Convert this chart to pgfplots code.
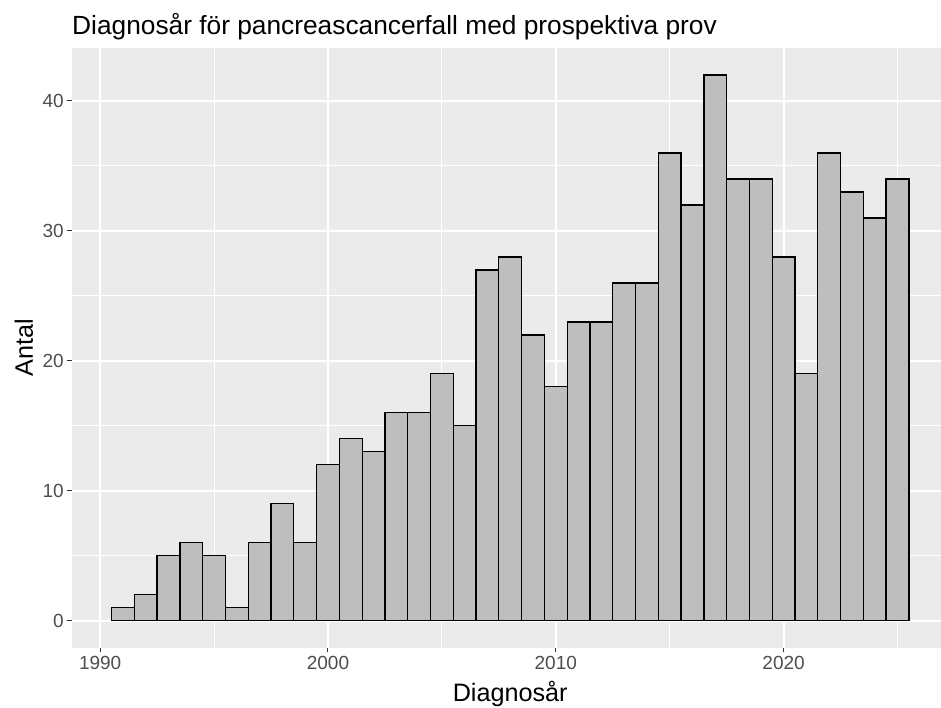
\documentclass[border=0pt]{standalone}
\usepackage{fontspec}
\setmainfont{Liberation Sans}
\usepackage{pgfplots}
\pgfplotsset{compat=1.18}
\definecolor{panel}{HTML}{EBEBEB}
\definecolor{barfill}{HTML}{BEBEBE}
\definecolor{ticklab}{HTML}{4D4D4D}
\definecolor{tickcol}{HTML}{333333}
\begin{document}
\begin{tikzpicture}
\useasboundingbox (-71.7pt,-60pt) rectangle (869.3pt,648pt);
\begin{axis}[
  at={(0,0)}, anchor=south west,
  scale only axis, width=869.3pt, height=600.3pt,
  xmin=1988.75, xmax=2026.91, ymin=-2.1, ymax=44.1,
  axis background/.style={fill=panel},
  axis line style={draw=none},
  xtick={1990,2000,2010,2020}, xticklabels={1990,2000,2010,2020},
  ytick={0,10,20,30,40}, yticklabels={0,10,20,30,40},
  minor xtick={1995,2005,2015,2025}, minor ytick={5,15,25,35},
  grid=both,
  major grid style={white, line width=2pt},
  minor grid style={white, line width=1pt},
  tick align=outside, xtick pos=left, ytick pos=left,
  major tick length=4.5pt, minor tick length=0pt,
  tick style={tickcol, line width=1pt},
  ticklabel style={font=\fontsize{19}{22}\selectfont, text=ticklab},
  clip=false,
]
\addplot[ybar, bar width=1, bar shift=0pt, fill=barfill, draw=black, line width=1.3pt]
coordinates {
(1991,1) (1992,2) (1993,5) (1994,6) (1995,5) (1996,1) (1997,6) (1998,9) (1999,6) (2000,12)
(2001,14) (2002,13) (2003,16) (2004,16) (2005,19) (2006,15) (2007,27) (2008,28) (2009,22) (2010,18)
(2011,23) (2012,23) (2013,26) (2014,26) (2015,36) (2016,32) (2017,42) (2018,34) (2019,34) (2020,28)
(2021,19) (2022,36) (2023,33) (2024,31) (2025,34)
};
\node[anchor=base west, font=\fontsize{26.3}{30}\selectfont, inner sep=0pt] at ([xshift=0.3pt, yshift=12.7pt]rel axis cs:0,1) {Diagnosår för pancreascancerfall med prospektiva prov};
\node[anchor=base, font=\fontsize{25.2}{30}\selectfont, inner sep=0pt] at ([yshift=-54pt]axis cs:2008,-2.1) {Diagnosår};
\node[anchor=base, rotate=90, font=\fontsize{25.2}{30}\selectfont, inner sep=0pt] at ([xshift=-38.7pt]axis cs:1988.75,21) {Antal};
\end{axis}
\end{tikzpicture}
\end{document}
